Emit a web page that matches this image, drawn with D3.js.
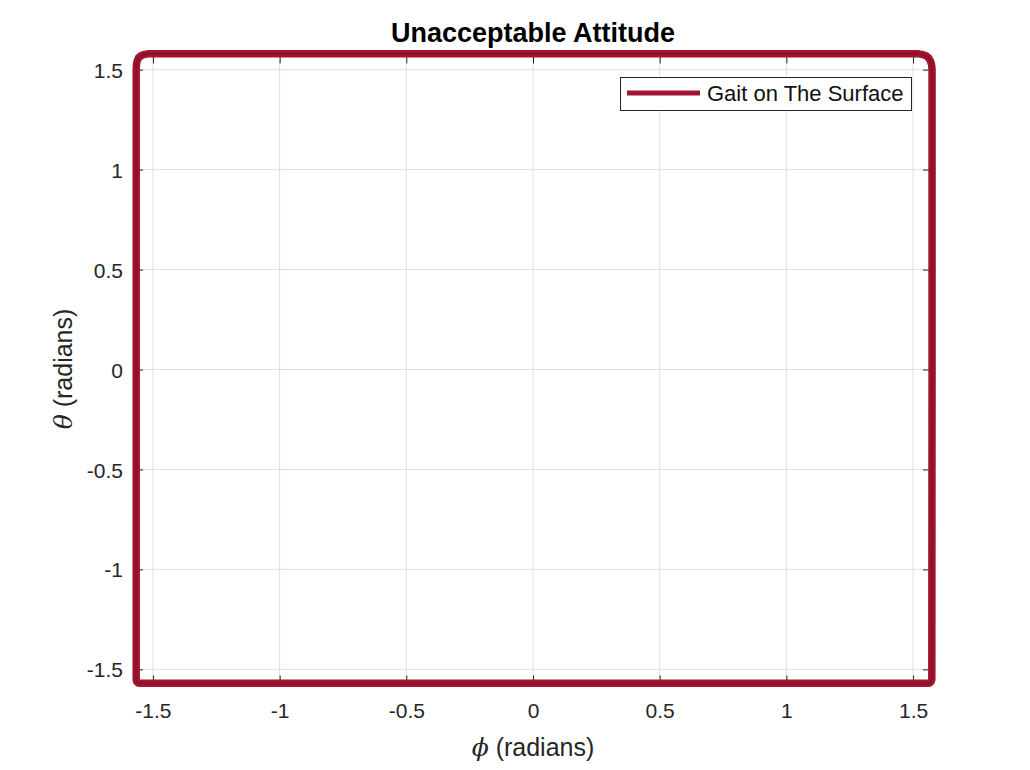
<!DOCTYPE html>
<html><head><meta charset="utf-8">
<script src="https://cdn.jsdelivr.net/npm/d3@7"></script>
<style>
html,body{margin:0;padding:0;background:#fff;}
text{font-family:"Liberation Sans",Arial,Helvetica,sans-serif;}
</style></head>
<body><svg id="c" width="1030" height="770"></svg>
<script>
const title = "Unacceptable Attitude";
const seriesName = "Gait on The Surface";
const xTicks = [-1.5, -1, -0.5, 0, 0.5, 1, 1.5];
const yTicks = [-1.5, -1, -0.5, 0, 0.5, 1, 1.5];
// closed gait trace (phi, theta in radians)
const phi   = [-1.566, -1.566, -1.565, -1.562, -1.556, -1.547, -1.535, -1.520, -1.500, 0.000, 1.500, 1.522, 1.540, 1.553, 1.562, 1.568, 1.572, 1.574, 1.575, 1.575, 1.574, 1.571, 1.565, 1.555, 0.000, -1.550, -1.560, -1.565, -1.566];
const theta = [0.000, 1.500, 1.525, 1.545, 1.560, 1.570, 1.576, 1.579, 1.580, 1.580, 1.580, 1.579, 1.575, 1.568, 1.558, 1.545, 1.530, 1.515, 1.500, 0.000, -1.552, -1.562, -1.568, -1.570, -1.570, -1.570, -1.567, -1.560, -1.550];

const svg = d3.select("#c");
const L = 135, R = 931, T = 55.5, B = 683.5;
const x = d3.scaleLinear().domain([-Math.PI/2, Math.PI/2]).range([L, R]);
const y = d3.scaleLinear().domain([-Math.PI/2, Math.PI/2]).range([B, T]);

svg.append("rect").attr("x", L).attr("y", T).attr("width", R-L).attr("height", B-T).attr("fill", "#fff");

// grid
const g = svg.append("g");
g.selectAll(".gx").data(xTicks).join("line")
  .attr("x1", d => x(d)).attr("x2", d => x(d)).attr("y1", T).attr("y2", B)
  .attr("stroke", "#e0e0e0").attr("stroke-width", 1);
g.selectAll(".gy").data(yTicks).join("line")
  .attr("y1", d => y(d)).attr("y2", d => y(d)).attr("x1", L).attr("x2", R)
  .attr("stroke", "#e0e0e0").attr("stroke-width", 1);

// axes
const fmt = d => d === 0 ? "0" : String(d);
const FS = 21;
const xa = svg.append("g").attr("transform", `translate(0,${B})`)
  .call(d3.axisBottom(x).tickValues(xTicks).tickFormat(fmt).tickSizeInner(-8).tickSizeOuter(0).tickPadding(20));
const xa2 = svg.append("g").attr("transform", `translate(0,${T})`)
  .call(d3.axisTop(x).tickValues(xTicks).tickFormat("").tickSizeInner(-8).tickSizeOuter(0));
const ya = svg.append("g").attr("transform", `translate(${L},0)`)
  .call(d3.axisLeft(y).tickValues(yTicks).tickFormat(fmt).tickSizeInner(-8).tickSizeOuter(0).tickPadding(12));
const ya2 = svg.append("g").attr("transform", `translate(${R},0)`)
  .call(d3.axisRight(y).tickValues(yTicks).tickFormat("").tickSizeInner(-8).tickSizeOuter(0));
[xa, xa2, ya, ya2].forEach(a => {
  a.select(".domain").attr("stroke", "#262626");
  a.selectAll(".tick line").attr("stroke", "#262626");
  a.selectAll(".tick text").attr("fill", "#262626").attr("font-size", FS)
   .attr("font-family", '"Liberation Sans",Arial,sans-serif');
});
ya.selectAll(".tick text").attr("dy", "0.36em");

// trace
const pts = phi.map((p, i) => [p, theta[i]]);
const line = d3.line().x(d => x(d[0])).y(d => y(d[1])).curve(d3.curveLinearClosed);
svg.append("path").datum(pts).attr("d", line)
  .attr("fill", "none").attr("stroke", "#A2142F").attr("stroke-width", 7.5).attr("stroke-linejoin", "round");
svg.append("path").datum(pts).attr("d", line)
  .attr("fill", "none").attr("stroke", "#7e0f26").attr("stroke-width", 2.5).attr("stroke-linejoin", "round").attr("opacity", 0.6);

// legend
const lg = svg.append("g");
lg.append("rect").attr("x", 620.5).attr("y", 77.5).attr("width", 291).attr("height", 33)
  .attr("fill", "#fff").attr("stroke", "#262626").attr("stroke-width", 1);
lg.append("line").attr("x1", 627).attr("x2", 700).attr("y1", 93).attr("y2", 93)
  .attr("stroke", "#A2142F").attr("stroke-width", 5);
lg.append("text").attr("x", 707).attr("y", 101).attr("font-size", 22).attr("fill", "#111").text(seriesName);

// title & labels
svg.append("text").attr("x", 533).attr("y", 42).attr("text-anchor", "middle")
  .attr("font-size", 27).attr("font-weight", "bold").attr("fill", "#000").text(title);
const xl = svg.append("text").attr("x", 533).attr("y", 756).attr("text-anchor", "middle")
  .attr("font-size", 25).attr("fill", "#262626");
xl.append("tspan").attr("font-style", "italic").attr("font-family", '"DejaVu Serif",serif').text("ϕ");
xl.append("tspan").text(" (radians)");
const yl = svg.append("text").attr("transform", "translate(72,369) rotate(-90)").attr("text-anchor", "middle")
  .attr("font-size", 25).attr("fill", "#262626");
yl.append("tspan").attr("font-style", "italic").attr("font-family", '"DejaVu Serif",serif').text("θ");
yl.append("tspan").text(" (radians)");
</script></body></html>
